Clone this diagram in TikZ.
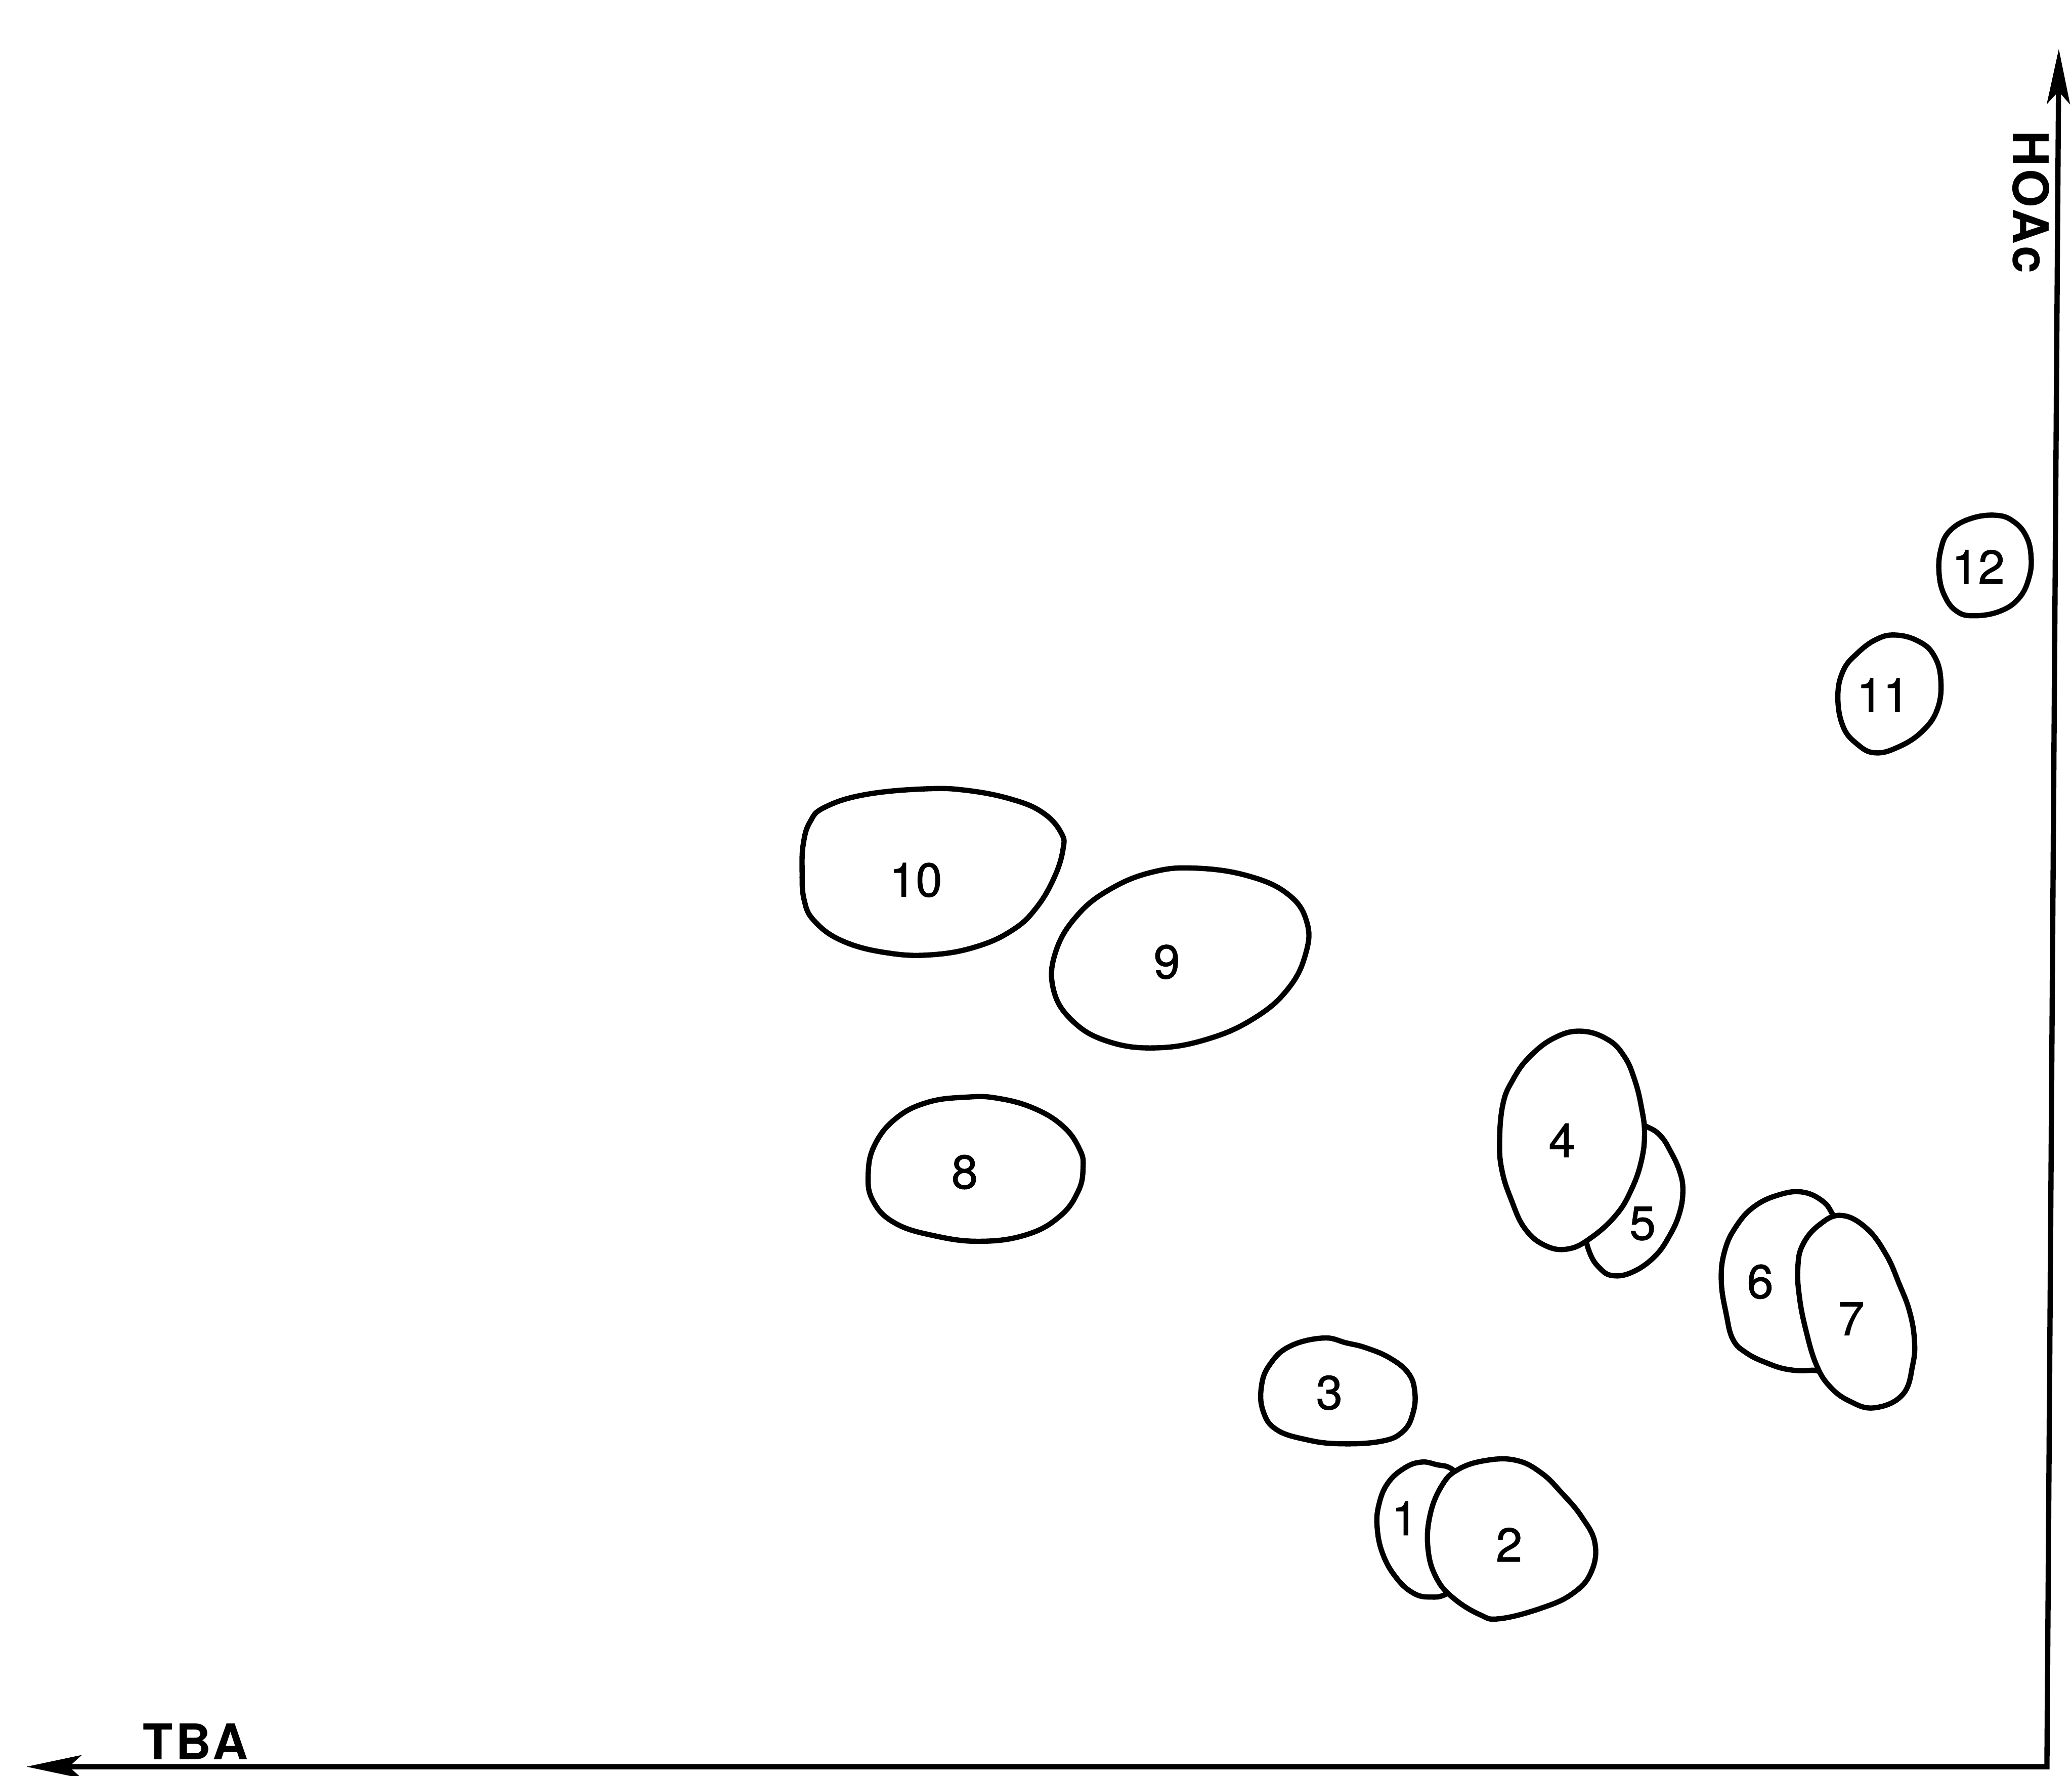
\documentclass[tikz,border=0pt]{standalone}
\usepackage{fontspec}
\setmainfont{TeX Gyre Heros}
\newfontfamily\spotfont{TeX Gyre Heros}[FakeBold=1.2]
\usetikzlibrary{arrows.meta}

\begin{document}
\begin{tikzpicture}[
  x=0.26435mm, y=-0.26435mm,
  blob/.style    = {draw=black, line width=1.05mm, line join=round},
  front/.style   = {blob, fill=white},
  spot/.style    = {font=\spotfont\fontsize{27}{30}\selectfont, inner sep=0pt},
  axlabel/.style = {font=\fontsize{28}{32}\selectfont\bfseries\addfontfeatures{LetterSpace=6},
                    inner sep=0pt},
  axis/.style    = {draw=black, line width=1.05mm, line join=miter,
                    >={Stealth[length=11mm, width=4.6mm, inset=2.5mm]}, <->},
]
\useasboundingbox (0,0) rectangle (1568,1344);

% axes
\coordinate (origin)  at (1549,1337);
\coordinate (tbaend)  at (20,1337);
\coordinate (hoacend) at (1558,37);
\draw[axis] (tbaend) -- (origin) -- (hoacend);
\node[axlabel] (tba) at (148,1318) {TBA};
\node[axlabel, rotate=-90] (hoac) at (1537,153) {HOAc};

% spots, back ones first
\draw[blob] plot[smooth cycle, tension=0.7] coordinates {
  (1087,1108.4) (1075.6,1106.5) (1063,1110.9) (1050.4,1122.2) (1043.5,1138.6)
  (1042.2,1156.3) (1046.6,1176.5) (1056.7,1194.1) (1069.3,1205.5) (1081.9,1208.6)
  (1095,1206) (1110,1193) (1118,1160) (1112,1126) (1099,1112)};
\draw[front] plot[smooth cycle, tension=0.7] coordinates {
  (1124.8,1105.2) (1147.5,1105.2) (1166.4,1114.7) (1182,1130) (1197,1148)
  (1207,1168) (1204,1190) (1190,1206) (1166.4,1217) (1134.9,1225)
  (1119.8,1221.9) (1099.6,1209.2) (1087,1194.1) (1080.7,1172.7) (1082,1147.5)
  (1090.8,1124.8) (1103.4,1112.1)};

\draw[blob] plot[smooth cycle, tension=0.7] coordinates {
  (1001.3,1012.6) (1018.9,1016.3) (1034,1020.1) (1051.7,1027.7) (1065.6,1039)
  (1070.6,1052.9) (1069.3,1069.3) (1061.8,1083.2) (1045.4,1090.7) (1013.9,1092.6)
  (988.6,1089.5) (966,1081.9) (955.9,1068) (954.6,1049.1) (960.9,1032.7) (976,1018.9)};

\draw[blob] plot[smooth cycle, tension=0.7] coordinates {
  (1237,851) (1248,853.5) (1257,860) (1264,871) (1271,886.2) (1273.5,900.6)
  (1271,917.9) (1263.4,935.2) (1252.1,951) (1235.7,962.5) (1220.6,965.4)
  (1210.5,959.6) (1203,948) (1200,932) (1204,912) (1216,888) (1228,864)};
\draw[front] plot[smooth cycle, tension=0.7] coordinates {
  (1196.6,780.4) (1216.8,786.8) (1229.4,799.8) (1237,817.1) (1242,837.2)
  (1244.5,857.4) (1242,879) (1234.4,900.6) (1223.1,919.3) (1204.2,936.6)
  (1186.5,945.2) (1168.9,942.4) (1153.7,929.4) (1143.6,907.8) (1136.7,886.2)
  (1134.8,864.6) (1137.3,835.8) (1144.9,817.1) (1157.5,799.8) (1176.4,785.4)};

\draw[blob] plot[smooth cycle, tension=0.7] coordinates {
  (1387,919.2) (1379.4,909.1) (1364.3,902.2) (1346.7,904.1) (1327.8,912.9)
  (1313.9,928) (1305.1,946.9) (1302.6,969.6) (1306.4,994.8) (1311.4,1013.7)
  (1321.5,1023.8) (1336.6,1031.3) (1353,1036.4) (1370.6,1037)
  (1384,1034) (1390,1000) (1386,960) (1393,931)};
\draw[front] plot[smooth cycle, tension=0.7] coordinates {
  (1393.3,919.8) (1412.2,929.3) (1427.3,949.4) (1437.4,972.1) (1445,992.3)
  (1448.7,1013.7) (1447.5,1032.6) (1439.9,1055.3) (1418.5,1065.4) (1399.6,1060.3)
  (1384.5,1049) (1374.4,1032.6) (1366.8,1007.4) (1361.8,982.2) (1360.5,959.5)
  (1364.3,941.9) (1376.9,926.8)};

\draw[blob] plot[smooth cycle, tension=0.7] coordinates {
  (731.4,830.3) (754.1,831) (781.8,838.5) (804.5,852.4) (817.1,870) (819.6,883.9)
  (815.9,901.6) (802,920.5) (776.8,934.4) (741.5,939.4) (706.1,935) (677.1,925.5)
  (660.8,909.1) (657,889) (662,866.3) (678.4,846.1) (702.4,834.1)};

\draw[blob] plot[smooth cycle, tension=0.7] coordinates {
  (905,657) (945,663) (975,677) (989,698) (988,722) (975,748) (950,770)
  (915,786) (875,793) (838,788) (811,772) (797,748) (799,720) (815,693)
  (840,673) (872,660)};

\draw[blob] plot[smooth cycle, tension=0.7] coordinates {
  (624,611) (654.4,601.4) (700.4,597) (732.8,598.3) (766.6,605.2) (789.5,615.3)
  (803.1,630.4) (804.4,643) (797.6,664.5) (784.1,687.2) (766.6,703.6) (739.6,716.2)
  (705.8,722.5) (672,721.2) (638.2,712.4) (616.6,697.3) (608.5,680.9) (607,658)
  (608,638) (613,622)};

\draw[blob] plot[smooth cycle, tension=0.7] coordinates {
  (1434.4,480.6) (1451.6,485.2) (1463.4,495.8) (1468.7,514.3) (1466.1,536.7)
  (1454.2,553.9) (1435.7,565.7) (1418.6,569.7) (1405.4,563.1) (1394.8,549.9)
  (1390.8,527.5) (1394.8,507.7) (1405.4,494.5) (1419.9,483.9)};

\draw[blob] plot[smooth cycle, tension=0.7] coordinates {
  (1511,390) (1524.2,395) (1533.4,406) (1537,421) (1535.5,437)
  (1528,452.5) (1513.6,462.5) (1493.8,466) (1480.6,462.5) (1471.4,450.5)
  (1467.4,434) (1468.7,416) (1475.3,402) (1491.2,392.5)};

% numbers
\node[spot] (n1)  at (1063,1149)  {1};
\node[spot] (n2)  at (1142,1169)  {2};
\node[spot] (n3)  at (1006,1054)  {3};
\node[spot] (n4)  at (1182,863)   {4};
\node[spot] (n5)  at (1243,926)   {5};
\node[spot] (n6)  at (1332,970)   {6};
\node[spot] (n7)  at (1401,998)   {7};
\node[spot] (n8)  at (730,887)    {8};
\node[spot] (n9)  at (883,728)    {9};
\node[spot] (n10) at (693,666)    {10};
\node[spot] (n11) at (1425,526)   {11};
\node[spot] (n12) at (1497,429)   {12};
\end{tikzpicture}
\end{document}
